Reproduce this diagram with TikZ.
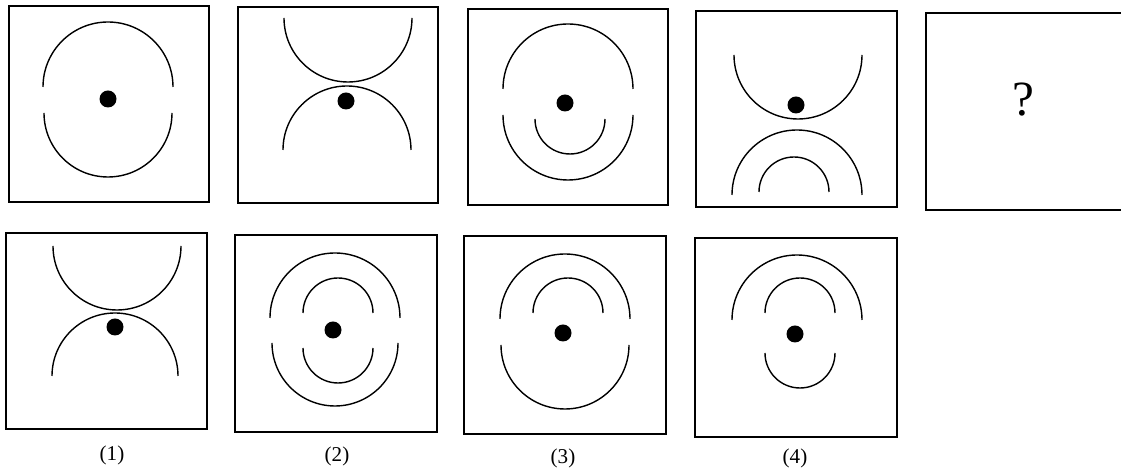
\documentclass[tikz,border=0pt]{standalone}
\usepackage{fontspec}
\setmainfont{Liberation Serif}
\usetikzlibrary{positioning}

\tikzset{
  frame/.style={line width=1pt},
  curve/.style={line width=1pt},
  figlabel/.style={font=\fontsize{15}{17}\selectfont}
}

\begin{document}
\begin{tikzpicture}[x=0.025cm,y=0.025cm]
  \useasboundingbox (0,0) rectangle (1121,472);
  \begin{scope}
  \clip (0,0) rectangle (1121,472);
  % top row
  \draw[frame] (9,270) rectangle (209,466);
  \draw[frame] (238,269) rectangle (438,465);
  \draw[frame] (468,267) rectangle (668,463);
  \draw[frame] (696,265) rectangle (897,461);
  \draw[frame] (1130,459) -- (926,459) -- (926,262) -- (1130,262);
  % bottom row
  \draw[frame] (6,43) rectangle (207,239);
  \draw[frame] (235,40) rectangle (437,237);
  \draw[frame] (464,38) rectangle (666,236);
  \draw[frame] (695,35) rectangle (897,234);
  \end{scope}

  % figure 1
  \draw[curve] (43,385) arc[start angle=180,end angle=0,radius=65];
  \draw[curve] (44,359) arc[start angle=180,end angle=360,radius=64];
  \fill (108,373) circle[radius=8.5];
  % figure 2
  \draw[curve] (284,454) arc[start angle=180,end angle=360,radius=64];
  \draw[curve] (283,322) arc[start angle=180,end angle=0,radius=64];
  \fill (346,371) circle[radius=8.5];
  % figure 3
  \draw[curve] (503,383) arc[start angle=180,end angle=0,radius=65];
  \draw[curve] (503,357) arc[start angle=180,end angle=360,radius=65];
  \draw[curve] (535,353) arc[start angle=180,end angle=360,radius=35];
  \fill (565,369) circle[radius=8.5];
  % figure 4
  \draw[curve] (734,417) arc[start angle=180,end angle=360,radius=64];
  \draw[curve] (732,277) arc[start angle=180,end angle=0,radius=65];
  \draw[curve] (759,280) arc[start angle=180,end angle=0,radius=35];
  \fill (796,367) circle[radius=8.5];
  % figure 5
  \node[font=\fontsize{35}{40}\selectfont] (query) at (1023,372) {?};

  % answer 1
  \draw[curve] (53,226) arc[start angle=180,end angle=360,radius=64];
  \draw[curve] (52,96) arc[start angle=180,end angle=0,radius=63];
  \fill (115,145) circle[radius=8.5];
  % answer 2
  \draw[curve] (270,154) arc[start angle=180,end angle=0,radius=65];
  \draw[curve] (303,159) arc[start angle=180,end angle=0,radius=35];
  \draw[curve] (272,129) arc[start angle=180,end angle=360,radius=63];
  \draw[curve] (303,124) arc[start angle=180,end angle=360,radius=35];
  \fill (333,142) circle[radius=8.5];
  % answer 3
  \draw[curve] (500,153) arc[start angle=180,end angle=0,radius=65];
  \draw[curve] (533,159) arc[start angle=180,end angle=0,radius=35];
  \draw[curve] (501,127) arc[start angle=180,end angle=360,radius=64];
  \fill (563,139) circle[radius=8.5];
  % answer 4
  \draw[curve] (732,152) arc[start angle=180,end angle=0,radius=65];
  \draw[curve] (765,159) arc[start angle=180,end angle=0,radius=35];
  \draw[curve] (765,119) arc[start angle=180,end angle=360,radius=35];
  \fill (795,138) circle[radius=8.5];

  % labels
  \node[figlabel] (lab1) at (112,17) {(1)};
  \node[figlabel] (lab2) at (337,16) {(2)};
  \node[figlabel] (lab3) at (563,14) {(3)};
  \node[figlabel] (lab4) at (795,14) {(4)};
\end{tikzpicture}
\end{document}
